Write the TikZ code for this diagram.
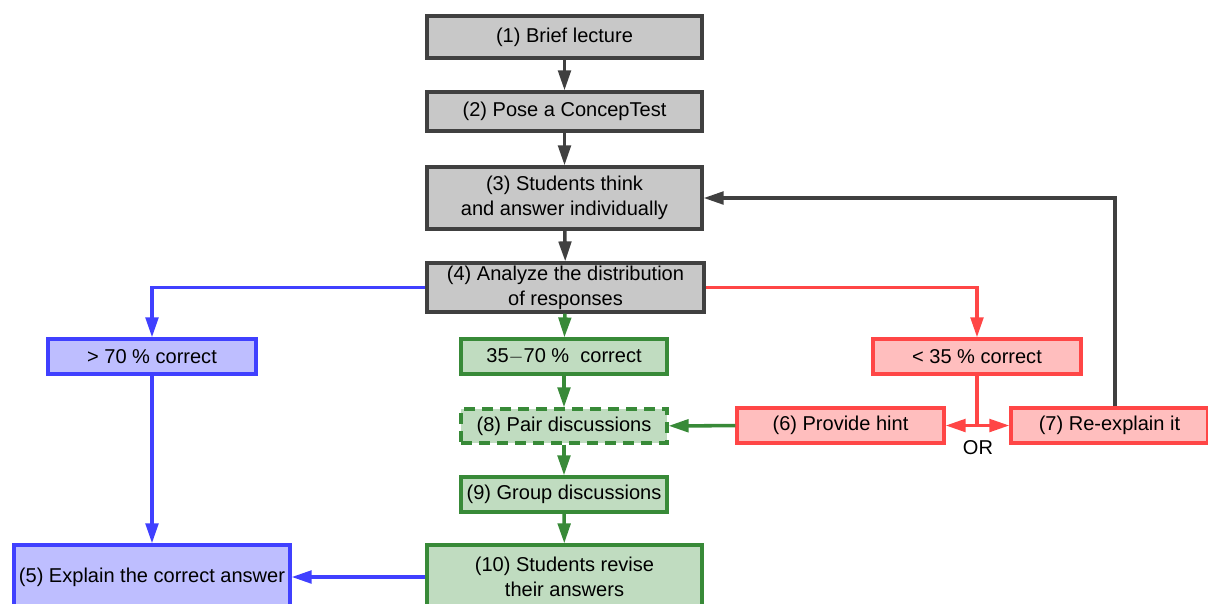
\documentclass[tikz,border=0pt]{standalone}
\usepackage{fontspec}
\setmainfont{Liberation Sans}
\usepackage{tikz}
\usetikzlibrary{arrows.meta}

\definecolor{grayfill}{RGB}{200,200,200}
\definecolor{grayline}{RGB}{64,64,64}
\definecolor{bluefill}{RGB}{190,190,255}
\definecolor{blueline}{RGB}{64,64,255}
\definecolor{greenfill}{RGB}{192,220,192}
\definecolor{greenline}{RGB}{56,138,56}
\definecolor{redfill}{RGB}{255,190,190}
\definecolor{redline}{RGB}{255,70,70}

\begin{document}
\begin{tikzpicture}[x=0.02cm,y=-0.02cm,
  box/.style={draw,line width=1.8pt,inner sep=0pt,align=center,font=\fontsize{11.4}{14.2}\selectfont},
  graybox/.style={box,draw=grayline,fill=grayfill},
  bluebox/.style={box,draw=blueline,fill=bluefill},
  greenbox/.style={box,draw=greenline,fill=greenfill},
  redbox/.style={box,draw=redline,fill=redfill},
  arr/.style={line width=2pt,-{Triangle[length=0.4cm,width=0.25cm]}}]
\clip (0,0) rectangle (1208,603);
\node[graybox,minimum width=5.5cm,minimum height=0.84cm] (b1) at (564.5,37) {(1) Brief lecture};
\node[graybox,minimum width=5.5cm,minimum height=0.78cm] (b2) at (564.5,111.5) {(2) Pose a ConcepTest};
\node[graybox,minimum width=5.5cm,minimum height=1.24cm] (b3) at (564.5,198) {(3) Students think\\ and answer individually};
\node[graybox,minimum width=5.54cm,minimum height=0.98cm] (b4) at (565.5,287.5) {(4) Analyze the distribution\\of responses};
\node[bluebox,minimum width=4.16cm,minimum height=0.7cm] (hi) at (152,356.5) {> 70 \% correct};
\node[greenbox,minimum width=4.12cm,minimum height=0.7cm] (mid) at (564,356.5) {35$-$70 \%\ \ correct};
\node[redbox,minimum width=4.16cm,minimum height=0.7cm] (lo) at (977,356.5) {< 35 \% correct};
\node[greenbox,dash pattern=on 0.22cm off 0.14cm,minimum width=4.12cm,minimum height=0.68cm] (pair) at (564,426) {(8) Pair discussions};
\node[redbox,minimum width=4.14cm,minimum height=0.7cm] (hint) at (840.5,425.5) {(6) Provide hint};
\node[redbox,minimum width=3.94cm,minimum height=0.7cm] (reex) at (1109.5,425.5) {(7) Re-explain it};
\node[greenbox,minimum width=4.12cm,minimum height=0.7cm] (group) at (564,494.5) {(9) Group discussions};
\node[greenbox,minimum width=5.5cm,minimum height=1.28cm] (revise) at (564.5,577) {(10) Students revise\\ their answers};
\node[bluebox,minimum width=5.52cm,minimum height=1.28cm] (explain) at (152,577) {(5) Explain the correct answer};
\node[font=\fontsize{11.4}{14.2}\selectfont] (or) at (978,448) {OR};
\coordinate (fork) at (lo.south |- hint.east);
\draw[arr,grayline] (b1) -- (b2);
\draw[arr,grayline] (b2) -- (b3);
\draw[arr,grayline] (b3) -- (b4);
\draw[arr,blueline] (b4.west) -| (hi.north);
\draw[arr,redline] (b4.east) -| (lo.north);
\draw[arr,greenline] (b4) -- (mid);
\draw[arr,greenline] (mid) -- (pair);
\draw[arr,greenline] (pair) -- (group);
\draw[arr,greenline] (group) -- (revise);
\draw[arr,greenline] (hint) -- (pair);
\draw[arr,blueline] (hi) -- (explain);
\draw[arr,blueline] (revise) -- (explain);
\draw[line width=2pt,redline] (lo) -- (fork);
\draw[arr,redline] (fork) -- (hint);
\draw[arr,redline] (fork) -- (reex);
\draw[arr,grayline] ([xshift=0.11cm]reex.north) |- (b3.east);
\end{tikzpicture}
\end{document}
